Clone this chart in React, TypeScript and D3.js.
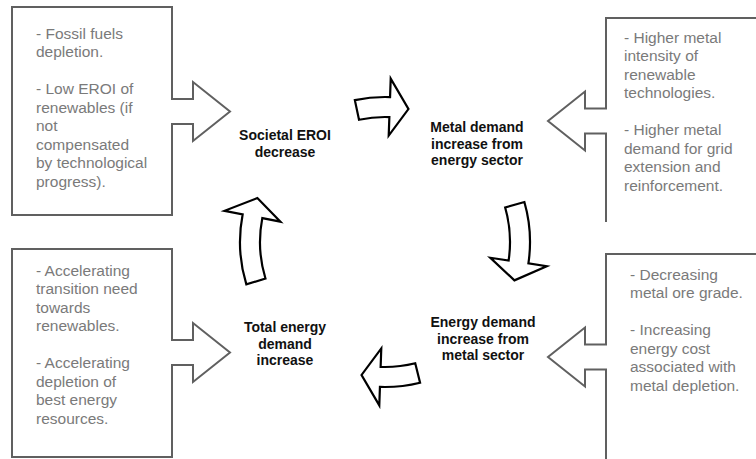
import * as d3 from "d3";

// ---- content ----
const cycleLabels = [
  ["Societal EROI", "decrease"],
  ["Metal demand", "increase from", "energy sector"],
  ["Energy demand", "increase from", "metal sector"],
  ["Total energy", "demand", "increase"],
];

const driverTexts = [
  ["- Fossil fuels", "depletion.", "", "- Low EROI of", "renewables (if", "not", "compensated", "by technological", "progress)."],
  ["- Higher metal", "intensity of", "renewable", "technologies.", "", "- Higher metal", "demand for grid", "extension and", "reinforcement."],
  ["- Decreasing", "metal ore grade.", "", "- Increasing", "energy cost", "associated with", "metal depletion."],
  ["- Accelerating", "transition need", "towards", "renewables.", "", "- Accelerating", "depletion of", "best energy", "resources."],
];

// ---- layout ----
const W = 756;
const H = 459;
const cx = 385;
const cy = 242;
const R = 135;

const labelPos = [
  { x: 285, y: 140 },
  { x: 477, y: 132 },
  { x: 483, y: 327 },
  { x: 285, y: 332 },
];

// curved cycle arrows, angles in degrees (clockwise, 0 = east)
const cycleArrows = [
  { tail: -102, base: -88, tip: -80 },
  { tail: -16, base: 8.5, tip: 16.5 },
  { tail: 76, base: 92, tip: 100 },
  { tail: 163, base: 191, tip: 199 },
];

// grey boxes with an arrow pointing at the label
const boxes = [
  { x0: 12, y0: 7, x1: 172, y1: 215, side: "right", ay: 111.5, tx: 36, ty: 38.5 },
  { x0: 606, y0: 18, x1: 780, y1: 222, side: "left", ay: 121, tx: 624, ty: 42.5 },
  { x0: 606, y0: 254, x1: 780, y1: 480, side: "left", ay: 357, tx: 630, ty: 279.5 },
  { x0: 12, y0: 249, x1: 172, y1: 457, side: "right", ay: 352.5, tx: 36, ty: 275.5 },
];

const rad = (deg: number) => (deg * Math.PI) / 180;

function arcArrow(a: { tail: number; base: number; tip: number }) {
  const shaft = 10;
  const head = 28.5;
  const t = rad(a.tail);
  const b = rad(a.base);
  const tp = rad(a.tip);
  const pt = (r: number, ang: number): [number, number] => [cx + r * Math.cos(ang), cy + r * Math.sin(ang)];
  const p = d3.path();
  p.moveTo(...pt(R + shaft, t));
  p.arc(cx, cy, R + shaft, t, b, false);
  p.lineTo(...pt(R + head, b));
  p.lineTo(...pt(R, tp));
  p.lineTo(...pt(R - head, b));
  p.lineTo(...pt(R - shaft, b));
  p.arc(cx, cy, R - shaft, b, t, true);
  p.closePath();
  return p.toString();
}

function boxPath(bx: (typeof boxes)[number]) {
  const shaft = 12.5;
  const head = 29.5;
  const neck = 21;
  const tip = 58;
  const line = d3.line();
  if (bx.side === "right") {
    const e = bx.x1;
    return line([
      [bx.x0, bx.y0],
      [e, bx.y0],
      [e, bx.ay - shaft],
      [e + neck, bx.ay - shaft],
      [e + neck, bx.ay - head],
      [e + tip, bx.ay],
      [e + neck, bx.ay + head],
      [e + neck, bx.ay + shaft],
      [e, bx.ay + shaft],
      [e, bx.y1],
      [bx.x0, bx.y1],
      [bx.x0, bx.y0],
    ]) + "Z";
  }
  const e = bx.x0;
  return line([
    [bx.x1, bx.y0],
    [e, bx.y0],
    [e, bx.ay - shaft],
    [e - neck, bx.ay - shaft],
    [e - neck, bx.ay - head],
    [e - tip, bx.ay],
    [e - neck, bx.ay + head],
    [e - neck, bx.ay + shaft],
    [e, bx.ay + shaft],
    [e, bx.y1],
  ]) ?? "";
}

export default function App() {
  const font = "'Liberation Sans', Arial, sans-serif";
  return (
    <svg
      width={W}
      height={H}
      viewBox={`0 0 ${W} ${H}`}
      style={{ position: "absolute", left: 0, top: 0, background: "#fff" }}
    >
      <rect width={W} height={H} fill="#fff" />
      {boxes.map((bx, i) => (
        <g key={`box-${i}`}>
          <path d={boxPath(bx)} fill="none" stroke="#606060" strokeWidth={2} strokeLinejoin="miter" />
          <text fontFamily={font} fontSize={15.5} fill="#7a7a7a">
            {driverTexts[i].map((l, j) => (
              <tspan key={j} x={bx.tx} y={bx.ty + j * 18.5}>
                {l}
              </tspan>
            ))}
          </text>
        </g>
      ))}
      {cycleArrows.map((a, i) => (
        <path
          key={`arr-${i}`}
          d={arcArrow(a)}
          fill="#fff"
          stroke="#000"
          strokeWidth={2.2}
          strokeLinejoin="miter"
        />
      ))}
      {cycleLabels.map((lines, i) => (
        <text
          key={`lab-${i}`}
          fontFamily={font}
          fontSize={14}
          fontWeight="bold"
          fill="#111"
          textAnchor="middle"
        >
          {lines.map((l, j) => (
            <tspan key={j} x={labelPos[i].x} y={labelPos[i].y + j * 16.5}>
              {l}
            </tspan>
          ))}
        </text>
      ))}
    </svg>
  );
}
